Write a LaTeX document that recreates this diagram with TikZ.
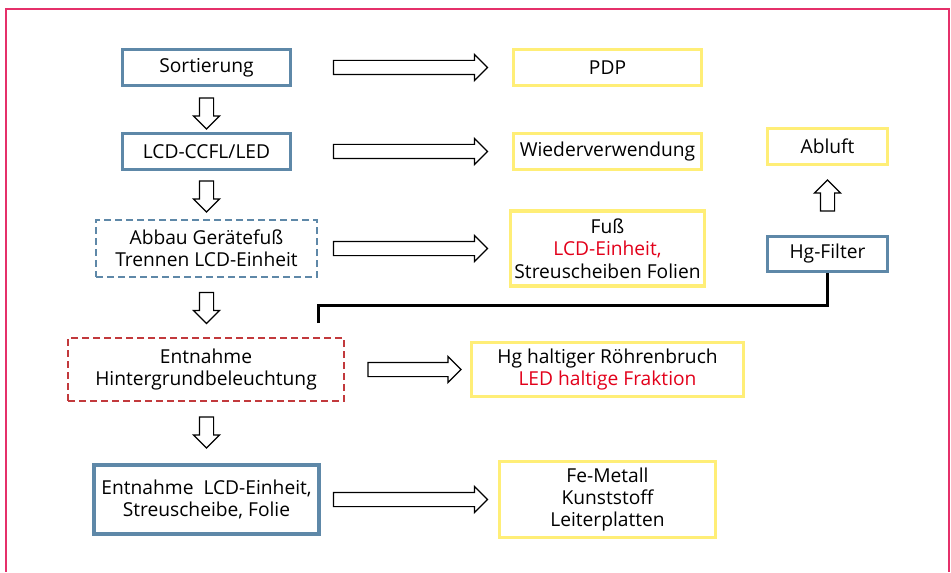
\documentclass[tikz,border=0pt]{standalone}
\usepackage{fontspec}
\setmainfont{Open Sans}
\usepackage{xcolor}
\usetikzlibrary{shapes.arrows}

\definecolor{framered}{HTML}{E5306A}
\definecolor{boxblue}{HTML}{5E88A8}
\definecolor{boxyellow}{HTML}{FFEE77}
\definecolor{dashred}{HTML}{C2393C}
\definecolor{textred}{HTML}{E2001A}

\begin{document}
\begin{tikzpicture}[
    x=0.5pt, y=-0.5pt,
    font=\fontsize{9.6}{11.2}\selectfont,
    box/.style={draw, align=center, inner sep=2pt},
    bluebox/.style={box, draw=boxblue, line width=1.5pt},
    yelbox/.style={box, draw=boxyellow, line width=1.4pt},
    dashbox/.style={box, line width=1pt, dash pattern=on 3.5pt off 2pt},
    blockarr/.style={draw, line width=0.6pt, shape=single arrow,
      single arrow head extend=3pt, single arrow tip angle=90,
      inner xsep=0pt, inner ysep=3.25pt},
    downarr/.style={blockarr, rotate=-90, minimum height=15.5pt},
    conn/.style={line width=1.5pt},
  ]
    \useasboundingbox (0,0) rectangle (951,572);
    \draw[framered, line width=1pt] (5.5,572) -- (5.5,9) -- (949,9) -- (949,572);

    % --- left column ---
    \node[bluebox, minimum width=84pt, minimum height=18pt] (sort)
      at (206.5,67.5) {Sortierung};
    \node[bluebox, minimum width=84pt, minimum height=18pt] (lcd)
      at (206.5,151.5) {LCD-CCFL/LED};
    \node[dashbox, draw=boxblue, minimum width=110.5pt, minimum height=28.5pt]
      (abbau) at (206.5,248.5) {Abbau Gerätefuß\\Trennen LCD-Einheit};
    \node[dashbox, draw=dashred, minimum width=138pt, minimum height=31.5pt]
      (hint) at (206,369.5) {Entnahme\\Hintergrundbeleuchtung};
    \node[bluebox, line width=1.8pt, minimum width=112.5pt, minimum height=34.5pt]
      (ent) at (206.5,499.5) {Entnahme~~LCD-Einheit,\\Streuscheibe, Folie};

    % --- right column ---
    \node[yelbox, minimum width=94pt, minimum height=18pt] (pdp)
      at (607.5,67.5) {PDP};
    \node[yelbox, minimum width=94pt, minimum height=18pt] (wieder)
      at (607.5,151.5) {Wiederverwendung};
    \node[yelbox, line width=1.8pt, minimum width=93.5pt, minimum height=37.5pt]
      (fuss) at (607.5,248.5)
      {Fuß\\\textcolor{textred}{LCD-Einheit,}\\Streuscheiben Folien};
    \node[yelbox, minimum width=136pt, minimum height=27pt] (hg)
      at (607.5,369.5)
      {Hg haltiger Röhrenbruch\\\textcolor{textred}{LED haltige Fraktion}};
    \node[yelbox, minimum width=108pt, minimum height=38pt] (fe)
      at (607.5,499.5) {Fe-Metall\\Kunststoff\\Leiterplatten};

    % --- exhaust branch ---
    \node[yelbox, minimum width=60pt, minimum height=18pt] (abluft)
      at (827.5,146.5) {Abluft};
    \node[bluebox, minimum width=60pt, minimum height=17.5pt] (filter)
      at (827.5,254) {Hg-Filter};

    % --- block arrows ---
    \node[downarr] (d1) at (206.5,110) {};
    \node[downarr] (d2) at (206.5,193) {};
    \node[downarr] (d3) at (206.5,304.5) {};
    \node[downarr] (d4) at (206.5,429) {};
    \node[blockarr, minimum height=77pt] (r1) at (407,67.5) {};
    \node[blockarr, minimum height=77pt] (r2) at (407,151.5) {};
    \node[blockarr, minimum height=77pt] (r3) at (407,248.5) {};
    \node[blockarr, minimum height=46.5pt] (r4) at (411,369.5) {};
    \node[blockarr, minimum height=77pt] (r5) at (407,499.5) {};
    \node[blockarr, rotate=90, minimum height=15.5pt] (u1) at (827.5,199) {};

    % Hg line to filter
    \coordinate (hgstart) at (318,323);
    \coordinate (hgbend) at (318,305);
    \draw[conn] (hgstart) -- (hgbend) -| (filter.south);
  \end{tikzpicture}
\end{document}
